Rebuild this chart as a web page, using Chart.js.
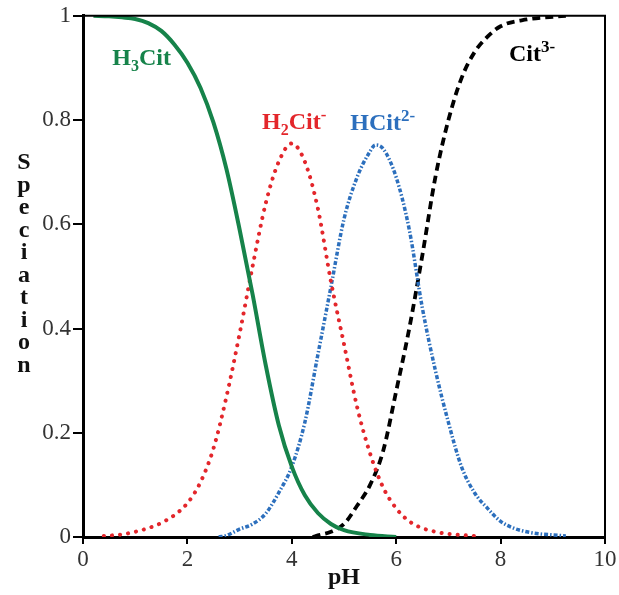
<!DOCTYPE html>
<html>
<head>
<meta charset="utf-8">
<script src="https://cdn.jsdelivr.net/npm/chart.js@4/dist/chart.umd.min.js"></script>
<style>
  html, body { margin: 0; padding: 0; background: #fff; }
  #wrap { width: 619px; height: 595px; position: relative; }
</style>
</head>
<body>
<div id="wrap"><canvas id="chart"></canvas></div>
<script>
// ---- data (pH, fraction) ----
const h3citPH  = [0.2, 0.5, 0.75, 1.0, 1.25, 1.5, 1.75, 2.0, 2.25, 2.5, 2.75, 3.0, 3.25, 3.5, 3.75, 4.0, 4.25, 4.5, 4.75, 5.0, 5.5, 6.0];
const h3citVal = [1.0, 0.999, 0.997, 0.994, 0.986, 0.971, 0.945, 0.91, 0.862, 0.795, 0.705, 0.59, 0.465, 0.33, 0.215, 0.135, 0.08, 0.046, 0.025, 0.013, 0.004, 0.0];

const h2citPH  = [0.4, 0.75, 1.0, 1.25, 1.5, 1.75, 2.0, 2.25, 2.5, 2.75, 3.0, 3.25, 3.5, 3.75, 4.0, 4.25, 4.5, 4.75, 5.0, 5.25, 5.5, 5.75, 6.0, 6.25, 6.5, 6.75, 7.0, 7.5];
const h2citVal = [0.002, 0.005, 0.01, 0.017, 0.027, 0.042, 0.065, 0.105, 0.17, 0.27, 0.39, 0.52, 0.64, 0.72, 0.755, 0.72, 0.63, 0.49, 0.37, 0.25, 0.16, 0.095, 0.055, 0.03, 0.017, 0.01, 0.006, 0.002];

const hcitPH  = [2.6, 2.75, 3.0, 3.25, 3.5, 3.75, 4.0, 4.25, 4.5, 4.75, 5.0, 5.25, 5.5, 5.6, 5.75, 6.0, 6.25, 6.5, 6.75, 7.0, 7.25, 7.5, 7.75, 8.0, 8.25, 8.5, 8.75, 9.0, 9.25];
const hcitVal = [0.0, 0.003, 0.015, 0.025, 0.045, 0.085, 0.135, 0.22, 0.35, 0.48, 0.61, 0.69, 0.74, 0.752, 0.745, 0.69, 0.59, 0.44, 0.32, 0.22, 0.135, 0.085, 0.055, 0.03, 0.017, 0.01, 0.006, 0.004, 0.002];

const citPH  = [4.4, 4.5, 4.75, 5.0, 5.25, 5.5, 5.75, 6.0, 6.25, 6.5, 6.75, 7.0, 7.25, 7.5, 7.75, 8.0, 8.5, 9.0, 9.25];
const citVal = [0.0, 0.003, 0.01, 0.025, 0.06, 0.1, 0.165, 0.28, 0.40, 0.54, 0.69, 0.80, 0.88, 0.93, 0.96, 0.98, 0.993, 0.998, 1.0];

const xTicks = [0, 2, 4, 6, 8, 10];
const yTicks = [0, 0.2, 0.4, 0.6, 0.8, 1];

// labels next to the curves: [base, sub, -, body, sup, pH, y, colour]
const curveLabels = [
  ['H', '3', '', 'Cit', '', 0.56, 0.906, '#16834a'],
  ['H', '2', '', 'Cit', '-', 3.43, 0.782, '#e3262b'],
  ['H', '', '', 'Cit', '2-', 5.12, 0.780, '#2c6fbd'],
  ['', '', '', 'Cit', '3-', 8.16, 0.914, '#000000']
];

function pts(xs, ys) {
  return xs.map((x, i) => ({ x: x, y: ys[i] }));
}

const SERIF = '"Liberation Serif", "DejaVu Serif", serif';

// frame + curve labels + stacked y title
const decor = {
  id: 'decor',
  afterDraw(chart) {
    const ctx = chart.ctx;
    const a = chart.chartArea;
    const sx = chart.scales.x, sy = chart.scales.y;
    ctx.save();
    // top and right edges (thinner)
    ctx.strokeStyle = '#000';
    ctx.lineWidth = 2;
    ctx.beginPath();
    ctx.moveTo(a.left, a.top);
    ctx.lineTo(a.right, a.top);
    ctx.lineTo(a.right, a.bottom);
    ctx.stroke();

    // curve labels
    ctx.textBaseline = 'alphabetic';
    curveLabels.forEach(l => {
      let x = sx.getPixelForValue(l[5]);
      const y = sy.getPixelForValue(l[6]);
      ctx.fillStyle = l[7];
      ctx.font = 'bold 24px ' + SERIF;
      if (l[0]) { ctx.fillText(l[0], x, y); x += ctx.measureText(l[0]).width; }
      if (l[1]) {
        ctx.font = 'bold 16px ' + SERIF;
        ctx.fillText(l[1], x, y + 6);
        x += ctx.measureText(l[1]).width;
      }
      ctx.font = 'bold 24px ' + SERIF;
      ctx.fillText(l[3], x, y);
      x += ctx.measureText(l[3]).width;
      if (l[4]) {
        ctx.font = 'bold 17px ' + SERIF;
        ctx.fillText(l[4], x, y - 9);
      }
    });

    // y title, letters stacked
    const word = 'Speciation';
    ctx.fillStyle = '#111';
    ctx.font = 'bold 24px ' + SERIF;
    ctx.textAlign = 'center';
    ctx.textBaseline = 'middle';
    for (let i = 0; i < word.length; i++) {
      ctx.fillText(word[i], 24, 163 + i * 22.5);
    }
    ctx.restore();
  }
};

new Chart(document.getElementById('chart'), {
  type: 'scatter',
  data: {
    datasets: [
      {
        label: 'H3Cit', data: pts(h3citPH, h3citVal),
        showLine: true, borderColor: '#16834a', borderWidth: 4,
        pointRadius: 0, cubicInterpolationMode: 'monotone'
      },
      {
        label: 'H2Cit-', data: pts(h2citPH, h2citVal),
        showLine: true, borderColor: '#e3262b', borderWidth: 4,
        borderDash: [0.1, 8], borderCapStyle: 'round',
        pointRadius: 0, cubicInterpolationMode: 'monotone'
      },
      {
        label: 'HCit2-', data: pts(hcitPH, hcitVal),
        showLine: true, borderColor: '#2c6fbd', borderWidth: 3.5,
        borderDash: [4, 2, 1.5, 2],
        pointRadius: 0, cubicInterpolationMode: 'monotone'
      },
      {
        label: 'Cit3-', data: pts(citPH, citVal),
        showLine: true, borderColor: '#000', borderWidth: 3.8,
        borderDash: [8, 5],
        pointRadius: 0, cubicInterpolationMode: 'monotone'
      }
    ]
  },
  options: {
    responsive: true, maintainAspectRatio: false, animation: false,
    layout: { padding: { top: 12, right: 14, left: 0, bottom: 0 } },
    plugins: { legend: { display: false }, tooltip: { enabled: false } },
    scales: {
      x: {
        type: 'linear', min: 0, max: 10,
        afterFit(s) { s.height = 58; },
        afterBuildTicks(s) { s.ticks = xTicks.map(v => ({ value: v })); },
        ticks: { color: '#333', padding: 2, font: { family: SERIF, size: 23 },
                 callback: v => String(v) },
        grid: { drawOnChartArea: false, tickLength: 7, color: '#000', lineWidth: 2 },
        border: { color: '#000', width: 3 },
        title: { display: true, text: 'pH', color: '#111', padding: { top: 0, bottom: 3 },
                 font: { family: SERIF, size: 24, weight: 'bold' } }
      },
      y: {
        min: 0, max: 1,
        afterFit(s) { s.width = 83; },
        afterBuildTicks(s) { s.ticks = yTicks.map(v => ({ value: v })); },
        ticks: { color: '#333', padding: 2, font: { family: SERIF, size: 23 },
                 callback: v => String(v) },
        grid: { drawOnChartArea: false, tickLength: 10, color: '#000', lineWidth: 2 },
        border: { color: '#000', width: 3 }
      }
    }
  },
  plugins: [decor]
});
</script>
</body>
</html>
